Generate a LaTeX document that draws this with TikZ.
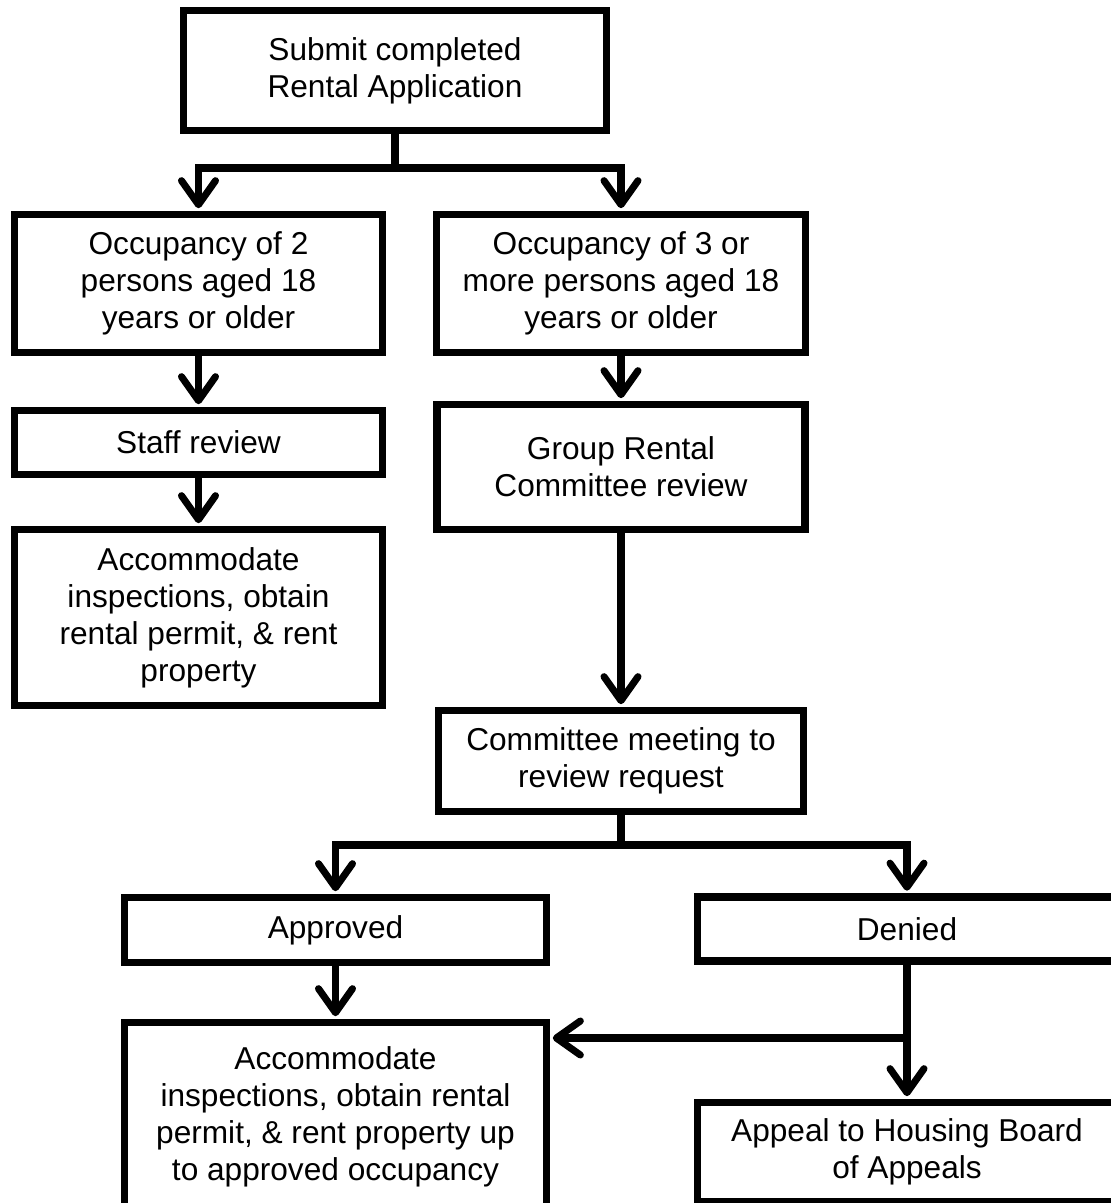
\documentclass[tikz,border=0pt]{standalone}
\usepackage{fontspec}
\setmainfont{Liberation Sans}
\usepackage{tikz}
\usetikzlibrary{calc}
\usetikzlibrary{arrows.meta, positioning}

\begin{document}
\begin{tikzpicture}[
		box/.style={draw, line width=5pt, align=center, inner sep=0pt,
			font=\fontsize{22.5}{26.3}\selectfont},
		flow/.style={line width=5pt, -{Straight Barb[length=0.6cm,width=0.85cm,round]}, shorten >=2pt},
		link/.style={line width=5pt}
	] % rental application flow
		\useasboundingbox (0,0) rectangle (27.775,-30.075);	% page
		
		% boxes
		\node[box, minimum width=10.575cm, minimum height=3cm] (submit) at (9.875,-1.7625) {Submit completed\\Rental Application};
		\node[box, minimum width=9.2cm, minimum height=3.45cm] (occtwo) at (4.9625,-7.0875) {Occupancy of 2\\persons aged 18\\years or older};
		\node[box, minimum width=9.225cm, minimum height=3.45cm] (occthree) at (15.525,-7.0875) {Occupancy of 3 or\\more persons aged 18\\years or older};
		\node[box, minimum width=9.2cm, minimum height=1.6cm] (staff) at (4.9625,-11.0625) {Staff review};
		\node[box, minimum width=9.2cm, minimum height=4.4cm] (accomleft) at (4.9625,-15.4375) {Accommodate\\inspections, obtain\\rental permit, \& rent\\property};
		\node[box, minimum width=9.2cm, minimum height=3.125cm] (group) at (15.525,-11.675) {Group Rental\\Committee review};
		\node[box, minimum width=9.125cm, minimum height=2.525cm] (meeting) at (15.525,-19.025) {Committee meeting to\\review request};
		\node[box, minimum width=10.55cm, minimum height=1.625cm] (approved) at (8.3875,-23.25) {Approved};
		\node[box, minimum width=10.475cm, minimum height=1.6cm] (denied) at (22.675,-23.225) {Denied};
		\node[box, minimum width=10.55cm, minimum height=4.725cm] (accomright) at (8.3875,-27.925) {Accommodate\\inspections, obtain rental\\permit, \& rent property up\\to approved occupancy};
		\node[box, minimum width=10.475cm, minimum height=2.475cm] (appeal) at (22.675,-28.8) {Appeal to Housing Board\\of Appeals};
		
		% split points
		\coordinate (splitone) at (9.875,-4.2);
		\coordinate (splittwo) at (15.525,-21.125);
		\coordinate (branch) at (22.675,-25.95);
		
		% connectors
		\draw[link] (submit.south) -- (splitone);
		\draw[flow] (splitone) -| (occtwo.north);
		\draw[flow] (splitone) -| (occthree.north);
		\draw[flow] (occtwo.south) -- (staff.north);
		\draw[flow] (staff.south) -- (accomleft.north);
		\draw[flow] (occthree.south) -- (group.north);
		\draw[flow] (group.south) -- (meeting.north);
		\draw[link] (meeting.south) -- (splittwo);
		\draw[flow] (splittwo) -| (approved.north);
		\draw[flow] (splittwo) -| (denied.north);
		\draw[flow] (approved.south) -- (accomright.north);
		\draw[flow] (denied.south) -- (appeal.north);
		\draw[flow] (branch) -- (branch -| accomright.east);
\end{tikzpicture}
\end{document}
